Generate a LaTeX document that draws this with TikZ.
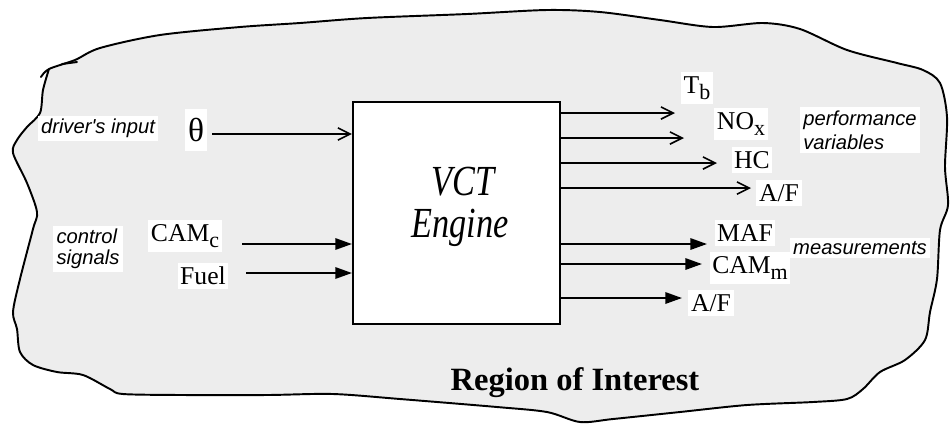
\documentclass[tikz,border=0pt]{standalone}
\usepackage{fontspec}
\setmainfont{Liberation Serif}
\setsansfont{Liberation Sans}
\usetikzlibrary{arrows.meta}
\newcommand{\lowsub}[1]{\raisebox{-3.5pt}{\fontsize{12.5}{13}\selectfont #1}}

\begin{document}
\begin{tikzpicture}[x = 0.02cm, y = -0.02cm,
    region/.style = {fill=black!7},
    outline/.style = {line width=1.1pt, line cap=round, line join=round},
    sig/.style = {fill=white, inner xsep=1.5pt, inner ysep=2.5pt, font=\fontsize{14.6}{16}\selectfont},
    note/.style = {fill=white, inner sep=2pt, align=left,
        font=\sffamily\itshape\fontsize{11.5}{13.7}\selectfont},
    eng/.style = {anchor=base, inner sep=0, font=\itshape\fontsize{24.4}{24}\selectfont},
    openarr/.style = {line width=1.1pt, -{Straight Barb[length=7pt,width=7pt,line width=0.9pt]}},
    fillarr/.style = {line width=1.1pt, -{Triangle[length=9.5pt,width=6.5pt]}}]
    \useasboundingbox (0, 0) rectangle (952, 424);

    %% region
    \fill[region] plot[smooth cycle, tension=0.5] coordinates {
        (49,69) (75,60) (100,48) (160,35) (240,27) (300,23) (367,18) (467,14)
        (547,10) (600,12) (660,20) (713,27) (763,23) (800,29) (847,50) (897,63)
        (923,70) (940,83) (947,117) (945,167) (948,205) (940,230) (937,279)
        (930,312) (925,340) (905,360) (880,372) (863,389) (847,399) (813,402)
        (747,405) (680,412) (613,419) (580,422) (547,412) (497,407) (400,399)
        (333,394) (267,395) (183,395) (123,394) (110,389) (83,375) (57,372)
        (33,365) (20,352) (17,329) (13,312) (20,279) (33,229) (37,212) (27,183)
        (13,153) (17,140) (27,127) (40,113) (43,90)};
    \draw[outline] plot[smooth, tension=0.5] coordinates {
        (41,77) (49,69) (75,60) (100,48) (160,35) (240,27) (300,23) (367,18) (467,14)
        (547,10) (600,12) (660,20) (713,27) (763,23) (800,29) (847,50) (897,63)
        (923,70) (940,83) (947,117) (945,167) (948,205) (940,230) (937,279)
        (930,312) (925,340) (905,360) (880,372) (863,389) (847,399) (813,402)
        (747,405) (680,412) (613,419) (580,422) (547,412) (497,407) (400,399)
        (333,394) (267,395) (183,395) (123,394) (110,389) (83,375) (57,372)
        (33,365) (20,352) (17,329) (13,312) (20,279) (33,229) (37,212) (27,183)
        (13,153) (17,140) (27,127) (40,113) (43,90) (49,69)};
    \draw[outline] (62,64) -- (77,62);

    %% engine
    \node[draw, fill=white, line width=1.2pt, inner sep=0,
        minimum width=4.14cm, minimum height=4.44cm] (engine) at (456.5, 213) {};
    \node[eng] (vct) at (463, 195) {\scalebox{0.8}[1]{VCT}};
    \node[eng] (engtxt) at (460, 237) {\scalebox{0.8}[1]{Engine}};

    %% inputs
    \node[note] (driver) at (98, 128.5) {driver\textquotesingle s input};
    \node[sig, inner ysep=5pt, font=\fontsize{19}{20}\selectfont] (theta) at (196, 130) {θ};
    \node[note, font=\sffamily\itshape\fontsize{11.5}{12}\selectfont] (ctrl) at (88, 249) {control\\signals};
    \node[sig] (camc) at (185, 236) {CAM\lowsub{c}};
    \node[sig] (fuel) at (203, 276) {Fuel};

    \coordinate (theta-tail) at (212, 134);
    \coordinate (camc-tail) at (242, 244);
    \coordinate (fuel-tail) at (246, 273);
    \draw[openarr] (theta-tail) -- (theta-tail -| engine.west);
    \draw[fillarr] (camc-tail) -- (camc-tail -| engine.west);
    \draw[fillarr] (fuel-tail) -- (fuel-tail -| engine.west);

    %% performance variables
    \node[sig] (tb) at (697, 88) {T\lowsub{b}};
    \node[sig] (nox) at (741, 124) {NO\lowsub{x}};
    \node[sig] (hc) at (752, 160) {HC};
    \node[sig] (af) at (779, 193) {A/F};
    \node[note] (perf) at (860, 130) {performance\\variables};

    \coordinate (tb-tip) at (675, 113);
    \coordinate (nox-tip) at (684, 138);
    \coordinate (hc-tip) at (717, 163);
    \coordinate (af-tip) at (751, 188);
    \draw[openarr] (engine.east |- tb-tip) -- (tb-tip);
    \draw[openarr] (engine.east |- nox-tip) -- (nox-tip);
    \draw[openarr] (engine.east |- hc-tip) -- (hc-tip);
    \draw[openarr] (engine.east |- af-tip) -- (af-tip);

    %% measurements
    \node[sig] (maf) at (745, 233) {MAF};
    \node[sig] (camm) at (750, 268) {CAM\lowsub{m}};
    \node[sig] (afm) at (711, 303) {A/F};
    \node[note] (meas) at (860, 248) {measurements};

    \coordinate (maf-tip) at (707, 244);
    \coordinate (camm-tip) at (702, 264);
    \coordinate (afm-tip) at (682, 298);
    \draw[fillarr] (engine.east |- maf-tip) -- (maf-tip);
    \draw[fillarr] (engine.east |- camm-tip) -- (camm-tip);
    \draw[fillarr] (engine.east |- afm-tip) -- (afm-tip);

    \node[font=\bfseries\fontsize{18.5}{20}\selectfont] (roi) at (575, 383) {Region of Interest};
\end{tikzpicture}
\end{document}
